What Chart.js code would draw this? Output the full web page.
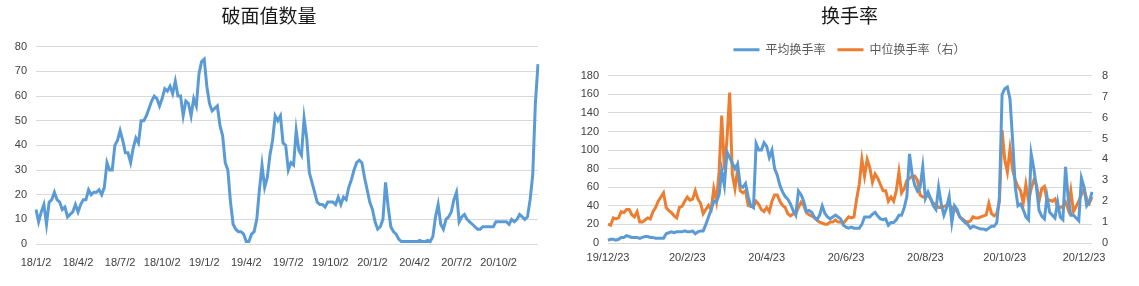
<!DOCTYPE html>
<html>
<head>
<meta charset="utf-8">
<script src="https://cdn.jsdelivr.net/npm/chart.js@4"></script>
<style>
html, body { margin: 0; padding: 0; background: #fff; }
#wrap { position: relative; width: 1139px; height: 286px; }
.box { position: absolute; top: 0; height: 286px; }
#left { left: 0; width: 560px; }
#right { left: 560px; width: 579px; }
</style>
</head>
<body>
<div id="wrap">
    <div class="box" id="left"><canvas id="chartOne"></canvas></div>
    <div class="box" id="right"><canvas id="chartTwo"></canvas></div>
</div>
<script>
// 破面值数量 (sampled along the time axis, 16 points per quarter)
const brokenTicks = ['18/1/2', '18/4/2', '18/7/2', '18/10/2', '19/1/2', '19/4/2', '19/7/2', '19/10/2', '20/1/2', '20/4/2', '20/7/2', '20/10/2'];
const brokenCount = [
    14, 9, 13, 16, 8, 17, 18, 21, 18, 17, 14, 15, 11, 12, 13, 16, 13, 16, 18, 18,
    22, 20, 21, 21, 22, 20, 23, 33, 30, 30, 40, 42, 46, 42, 37, 37, 33, 39, 43, 41,
    50, 50, 52, 55, 58, 60, 59, 56,
    59, 63, 62, 64, 61, 66, 60, 60, 52, 58, 57, 52, 59, 56, 69, 74, 75, 64, 57, 54,
    55, 56, 48, 44, 33, 30, 17, 8, 6, 5, 5, 4, 1, 1, 4, 5, 10, 22, 32, 23,
    27, 36, 42, 52, 50, 52, 41, 40, 30,
    33, 32, 46, 38, 36, 51, 43, 29, 25, 21, 17, 16, 16, 15, 17, 17, 17, 16, 19, 16,
    19, 18, 23, 26, 30, 33, 34, 33, 27, 22, 17, 14, 9, 6, 7, 10, 25, 15, 7, 5,
    4, 2, 1, 1,
    1, 1, 1, 1, 1, 1.5, 1, 1, 1.5, 1, 3, 11, 16, 8, 6, 10, 11, 13, 18, 21,
    9, 11, 12, 10, 9, 8, 7, 6, 6, 7, 7, 7, 7, 7, 9, 9, 9, 9, 9, 8,
    10, 9, 10, 12, 11, 10, 11, 18, 28, 57, 73
];
const brokenStep = 16;

// 换手率 (30 points per two-month tick)
const turnoverTicks = ['19/12/23', '20/2/23', '20/4/23', '20/6/23', '20/8/23', '20/10/23', '20/12/23'];
const avgTurnover = [
    3, 4, 4, 3, 4, 6, 6, 8, 7, 6, 6, 6, 5, 6, 7, 7, 6, 6, 5, 5,
    5, 5, 10, 11, 12, 11, 12, 12, 12, 13, 12, 12, 13, 10, 12, 13, 13, 20, 28, 36,
    45,
    44, 52, 78, 62, 98, 92, 86, 80, 85, 62, 60, 64, 50, 40, 38, 107, 100, 100, 108, 104,
    92, 100, 80, 73, 62, 55, 50, 47, 42, 35, 30, 56, 52, 45, 34, 35, 33, 28, 25, 30,
    40, 32, 28, 26, 28, 30, 28, 26, 19,
    17, 16, 17, 16, 16, 16, 20, 28, 28, 28, 31, 33, 29, 26, 25, 26, 19, 22, 22, 25,
    30, 30, 38, 50, 96, 74, 62, 56, 60, 82, 48, 55, 48, 40, 36, 60, 42, 30, 38, 50,
    22, 40, 36, 28, 25, 22, 20, 16,
    18, 17, 16, 15, 15, 14, 16, 18, 18, 22, 50, 160, 166, 168, 155, 110, 60, 40, 42, 36,
    28, 25, 96, 80, 60, 35, 29, 26, 50, 33, 30, 27, 44, 28, 25, 82, 48, 30, 30, 27,
    24, 70, 60, 40, 44, 55
];
const medTurnover = [
    0.9, 0.85, 1.2, 1.15, 1.2, 1.5, 1.45, 1.6, 1.6, 1.35, 1.25, 1.5, 1.0, 1.0, 1.1, 1.2, 1.15, 1.5, 1.7, 2.0,
    2.2, 2.4, 1.7, 1.55, 1.45, 1.3, 1.2, 1.7, 1.75, 2.0, 2.2, 2.05, 2.1, 2.5, 2.1, 1.9, 1.4, 1.6, 1.8, 1.6,
    2.6,
    2.0, 3.4, 6.1, 3.5, 5.0, 7.2, 3.3, 2.6, 3.5, 2.5, 2.4, 2.5, 1.8, 1.75, 1.75, 2.0, 1.85, 1.6, 1.5, 1.7,
    1.5, 2.0, 2.3, 2.3, 2.0, 1.8, 1.7, 1.4, 1.3, 1.4, 1.4, 1.7, 1.95, 1.8, 1.45, 1.35, 1.3, 1.2, 1.1, 1.0,
    0.95, 0.9, 0.9, 1.0, 1.0, 1.1, 1.0, 1.0, 0.95,
    1.1, 1.25, 1.2, 1.25, 2.1, 2.8, 4.0, 3.2, 4.0, 3.6, 2.9, 3.3, 3.1, 2.8, 2.5, 2.5, 2.0, 2.2, 2.0, 2.5,
    3.4, 2.4, 2.6, 3.0, 3.1, 3.2, 3.2, 3.0, 2.3, 2.2, 2.2, 2.3, 2.1, 1.9, 1.85, 1.7, 1.7, 1.75, 1.8, 1.8,
    1.7, 1.6, 1.5, 1.25, 1.15, 1.05, 1.0, 1.05,
    1.25, 1.2, 1.2, 1.25, 1.3, 1.35, 1.9, 1.4, 1.3, 1.4, 2.0, 5.4, 4.0, 3.4, 4.5, 3.5, 3.0, 2.7, 2.5, 1.9,
    2.8, 2.0, 2.6, 3.0, 2.8, 2.0, 2.6, 2.7, 2.0, 2.05, 2.0, 2.1, 1.7, 1.7, 1.75, 1.95, 1.6, 2.5, 1.5, 1.75,
    2.0, 2.3, 2.6, 2.1, 1.9, 2.2
];
const turnoverStep = 30;

const BLUE = '#5b9bd5';
const ORANGE = '#ed7d31';
const GRID = '#d9d9d9';
const TXT = '#404040';
const FONT = '"Liberation Sans", "Noto Sans CJK SC", sans-serif';
const CJK = '"Noto Sans CJK SC", sans-serif';

Chart.defaults.font.family = FONT;
Chart.defaults.color = TXT;

function tickPicker(ticks, step) {
    return (val, idx) => (idx % step === 0 && ticks[idx / step] !== undefined ? ticks[idx / step] : null);
}

// left chart
new Chart(document.getElementById('chartOne').getContext('2d'), {
    type: 'line',
    data: {
        labels: brokenCount.map((v, i) => i),
        datasets: [{
            data: brokenCount,
            borderColor: BLUE,
            borderWidth: 3,
            pointRadius: 0,
            tension: 0,
        }],
    },
    options: {
        responsive: true,
        maintainAspectRatio: false,
        animation: false,
        layout: { padding: { top: 4, right: 22, left: 0, bottom: 0 } },
        plugins: {
            legend: { display: false },
            tooltip: { enabled: false },
            title: {
                display: true,
                text: '破面值数量',
                color: '#1a1a1a',
                font: { family: CJK, size: 19, weight: 'normal' },
                padding: { top: 0, bottom: 20 },
            },
        },
        scales: {
            x: {
                grid: { display: false },
                border: { display: false },
                ticks: {
                    autoSkip: false,
                    maxRotation: 0,
                    padding: 4,
                    font: { size: 11 },
                    callback: tickPicker(brokenTicks, brokenStep),
                },
                afterFit: (s) => { s.height = 42; },
            },
            y: {
                min: 0,
                max: 80,
                ticks: { stepSize: 10, padding: 9, font: { size: 11 } },
                grid: { color: GRID, drawTicks: false },
                border: { display: false },
                afterFit: (s) => { s.width = 36; },
            },
        },
    },
});

// right chart
const legendGap = {
    id: 'legendGap',
    beforeInit(chart) {
        const fit = chart.legend.fit;
        chart.legend.fit = function () {
            fit.bind(chart.legend)();
            this.height += 10;
        };
    },
};

new Chart(document.getElementById('chartTwo').getContext('2d'), {
    type: 'line',
    data: {
        labels: avgTurnover.map((v, i) => i),
        datasets: [{
            label: '平均换手率',
            data: avgTurnover,
            borderColor: BLUE,
            backgroundColor: BLUE,
            borderWidth: 3,
            pointRadius: 0,
            pointStyle: 'line',
            tension: 0,
            yAxisID: 'y',
        }, {
            label: '中位换手率（右）',
            data: medTurnover,
            borderColor: ORANGE,
            backgroundColor: ORANGE,
            borderWidth: 3,
            pointRadius: 0,
            pointStyle: 'line',
            tension: 0,
            yAxisID: 'y1',
        }],
    },
    options: {
        responsive: true,
        maintainAspectRatio: false,
        animation: false,
        layout: { padding: { top: 4, right: 0, left: 0, bottom: 0 } },
        plugins: {
            tooltip: { enabled: false },
            title: {
                display: true,
                text: '换手率',
                color: '#1a1a1a',
                font: { family: CJK, size: 19, weight: 'normal' },
                padding: { top: 0, bottom: 5 },
            },
            legend: {
                display: true,
                labels: {
                    usePointStyle: true,
                    pointStyleWidth: 26,
                    padding: 12,
                    color: '#595959',
                    font: { family: CJK, size: 12 },
                },
            },
        },
        scales: {
            x: {
                grid: { display: false },
                border: { display: false },
                ticks: {
                    autoSkip: false,
                    maxRotation: 0,
                    padding: 0,
                    font: { size: 11 },
                    callback: tickPicker(turnoverTicks, turnoverStep),
                },
                afterFit: (s) => { s.height = 43; },
            },
            y: {
                position: 'left',
                min: 0,
                max: 180,
                ticks: { stepSize: 20, padding: 9, font: { size: 11 } },
                grid: { color: GRID, drawTicks: false },
                border: { display: false },
                afterFit: (s) => { s.width = 48; },
            },
            y1: {
                position: 'right',
                min: 0,
                max: 8,
                ticks: { stepSize: 1, padding: 10, font: { size: 11 } },
                grid: { drawOnChartArea: false, drawTicks: false },
                border: { display: false },
                afterFit: (s) => { s.width = 47; },
            },
        },
    },
    plugins: [legendGap],
});
</script>
</body>
</html>
